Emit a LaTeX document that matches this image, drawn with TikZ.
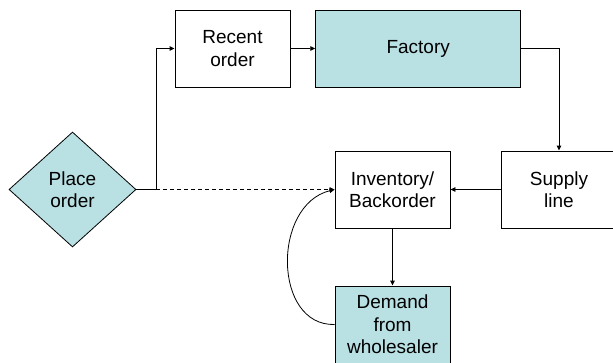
\documentclass[tikz,border=0pt]{standalone}
\usepackage{fontspec}
\setmainfont{Liberation Sans}
\usetikzlibrary{shapes.geometric,arrows.meta}
\definecolor{teal1}{RGB}{185,224,227}
\begin{document}
\begin{tikzpicture}[x=1pt,y=-1pt,
  every node/.style={font=\fontsize{19}{22.5}\selectfont, align=center},
  boxn/.style={draw=black, line width=0.9pt, minimum width=115pt, minimum height=77pt, inner sep=0pt},
  filled/.style={fill=teal1},
  dia/.style={draw=black, line width=0.8pt, fill=teal1, diamond, minimum width=127pt, minimum height=115pt, inner sep=0pt},
  conn/.style={line width=0.9pt, -{Triangle[length=5pt,width=4.5pt]}}
]
\useasboundingbox (0,0) rectangle (613,362);
\clip (0,0) rectangle (613,362);
\node[boxn] (recent) at (232.5,48.5) {Recent\\order};
\node[boxn, filled, minimum width=205pt] (factory) at (418.2,48.5) {Factory};
\node[dia] (place) at (72.5,189.5) {Place\\order};
\node[boxn] (inv) at (392.5,189.5) {Inventory/\\Backorder};
\node[boxn] (supply) at (559,189.5) {Supply\\line};
\node[boxn, filled] (demand) at (392.5,324.5) {Demand\\from\\wholesaler};
\coordinate (j) at (156,189.5);
\draw[line width=0.9pt] (place.east) -- (j);
\draw[conn] (j) |- (recent.west);
\draw[conn, dashed, dash pattern=on 4pt off 3pt] (j) -- (inv.west);
\draw[conn] (recent.east) -- (factory.west);
\draw[conn] (factory.east) -| (supply.north);
\draw[conn] (supply.west) -- (inv.east);
\draw[conn] (inv.south) -- (demand.north);
\draw[conn, line width=0.8pt] (demand.west) .. controls (273,326) and (272,205) .. (inv.west);
\end{tikzpicture}
\end{document}
